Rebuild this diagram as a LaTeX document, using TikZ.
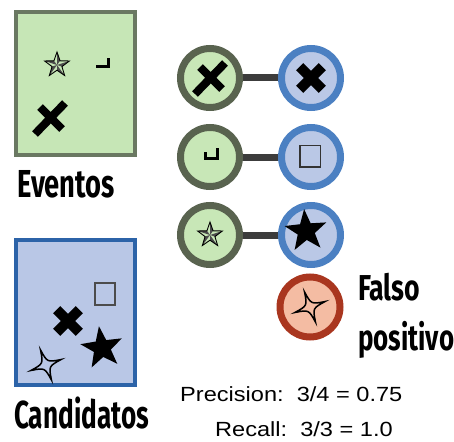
\documentclass[tikz,border=0pt]{standalone}
\usepackage{fontspec}
\setmainfont{Liberation Sans}
\newfontfamily\condfont{Fira Sans}
\usetikzlibrary{backgrounds}

\definecolor{evfill}{HTML}{C6E6B6}
\definecolor{evline}{HTML}{6A7862}
\definecolor{cafill}{HTML}{B9C7E6}
\definecolor{caline}{HTML}{2C63A8}
\definecolor{lcline}{HTML}{59634F}
\definecolor{lcfill}{HTML}{C8E7B7}
\definecolor{rcline}{HTML}{4B80C2}
\definecolor{rcfill}{HTML}{BAC8E6}
\definecolor{fpline}{HTML}{A9361F}
\definecolor{fpfill}{HTML}{F4BCA3}
\definecolor{linkgray}{HTML}{3C3C3C}

\newcommand\cond[3]{\scalebox{#2}[1]{\fontsize{#1}{#1}\selectfont\condfont\bfseries #3}}
\newcommand\metric[1]{\scalebox{1.15}[1]{\fontsize{20.5}{20.5}\selectfont #1}}

\tikzset{
  roughx/.pic={\draw[line width=8pt] (-15,16) -- (15,-15) (-10,-11) -- (12,11);},
  boldx/.pic={\fill[rotate=45] (-16,-5) rectangle (16,5);
              \fill[rotate=-45] (-16,-5) rectangle (16,5);},
  fullstar/.pic={\fill (-90:22) \foreach \a in {0,...,4} {-- ({-54+\a*72}:9) -- ({-18+\a*72}:22)} -- cycle;},
  navstar/.pic={
    \foreach \a in {0,...,4} \fill[black!70] (0,0) -- ({-90+\a*72}:13) -- ({-54+\a*72}:5.2) -- cycle;
    \draw[line width=0.9pt] (-90:13) \foreach \a in {0,...,4} {-- ({-54+\a*72}:5.2) -- ({-18+\a*72}:13)} -- cycle;},
  fourstar/.pic={\draw[line width=1.5pt] (0:16) \foreach \a in {90,180,270,360} {.. controls ({\a-45}:3) .. (\a:16)} -- cycle;}
}

\begin{document}
\begin{tikzpicture}[
    x=1pt, y=-1pt,
    evt/.style={draw=lcline,fill=lcfill,circle,line width=7pt,minimum size=59pt,inner sep=0pt},
    cnd/.style={draw=rcline,fill=rcfill,circle,line width=7pt,minimum size=59pt,inner sep=0pt},
    fpos/.style={draw=fpline,fill=fpfill,circle,line width=7pt,minimum size=60pt,inner sep=0pt},
    setbox/.style={rectangle,line width=4pt,minimum width=119pt,minimum height=143pt,inner sep=0pt},
    link/.style={draw=linkgray,line width=7pt},
    title/.style={anchor=base west,inner sep=0pt},
    metricline/.style={anchor=base west,inner sep=0pt}
  ]
    \useasboundingbox (0,0) rectangle (454,441);

    % the two sets
    \node[setbox,draw=evline,fill=evfill] (evbox) at (75.5,83.5) {};
    \node[setbox,draw=caline,fill=cafill,minimum height=145pt] (cabox) at (75.5,312.5) {};
    \node[title] (evlabel) at (17,197) {\cond{39}{0.70}{Eventos}};
    \node[title] (calabel) at (14,428) {\cond{39}{0.67}{Candidatos}};

    \pic at (57,65) {navstar};
    \draw[line width=3pt] (96,67) -- (108,67) -- (108,58);
    \pic at (50,118) {roughx};

    \draw[black!70,line width=1.2pt] (95,283) rectangle (115,305);
    \pic at (68,321) {boldx};
    \pic[rotate=8] at (102,348) {fullstar};
    \pic[rotate=20] at (46,365) {fourstar};

    % matching
    \node[evt] (e1) at (210,78) {};
    \node[evt] (e2) at (210,157) {};
    \node[evt] (e3) at (210,235) {};
    \node[cnd] (c1) at (311,78) {};
    \node[cnd] (c2) at (311,157) {};
    \node[cnd] (c3) at (311,235) {};
    \node[fpos] (fp) at (310,307) {};

    \begin{scope}[on background layer]
      \draw[link] (e1) -- (c1);
      \draw[link] (e2) -- (c2);
      \draw[link] (e3) -- (c3);
    \end{scope}

    \pic at (e1) {roughx};
    \pic at (c1) {boldx};
    \draw[line width=3pt] (205,152) -- (205,158) -- (217,158) -- (217,148);
    \draw[black!80,line width=1pt] (300,145) rectangle (320,167);
    \draw[black!80,line width=2pt] (300,145) -- (300,167) -- (320,167);
    \pic at (e3) {navstar};
    \pic[rotate=5] at (306,231) {fullstar};
    \pic[rotate=20] at (fp) {fourstar};

    \node[title] (falso) at (358,300) {\cond{36}{0.74}{Falso}};
    \node[title] (positivo) at (358,350) {\cond{36}{0.72}{positivo}};

    \node[metricline] (prec) at (180,401) {\metric{Precision:\ \ 3/4 = 0.75}};
    \node[metricline] (rec) at (215,436) {\metric{Recall:\ \ 3/3 = 1.0}};
\end{tikzpicture}
\end{document}
